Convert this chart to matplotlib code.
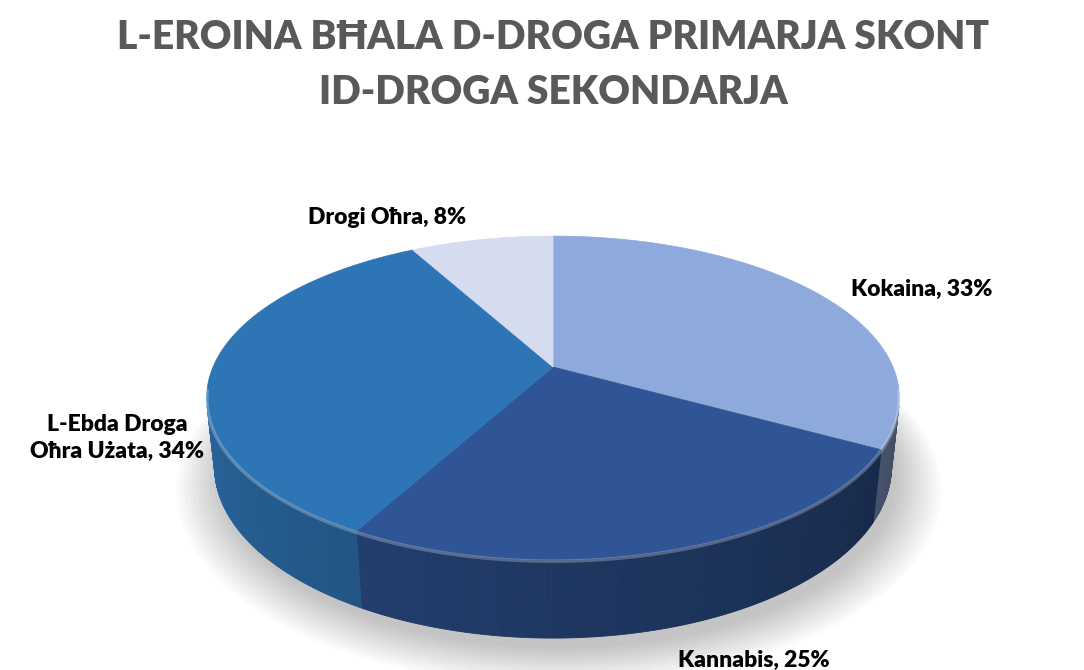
import numpy as np
import matplotlib.pyplot as plt
from matplotlib.patches import Polygon
from matplotlib.colors import to_rgb

# data
labels = ['Kokaina', 'Kannabis', 'L-Ebda Droga\nOħra Użata', 'Drogi Oħra']
shares = [33, 25, 34, 8]
colors = ['#8EA9DB', '#2F5597', '#2E75B6', '#D6DCF0']
title = 'L-EROINA BĦALA D-DROGA PRIMARJA SKONT\nID-DROGA SEKONDARJA'

# fake 3d camera (pixel space)
elev = np.radians(27.3)
dist = 4.65
thick = 0.23
scale = 1581
cx, cy = 553, 367
ce, se = np.cos(elev), np.sin(elev)


def project(t, z):
    x, y = np.cos(t), np.sin(t)
    den = dist + y * ce - z * se
    return cx + scale * x / den, cy - scale * (y * se + z * ce) / den


def shade(col, f):
    r, g, b = to_rgb(col)
    return (r * f, g * f, b * f)


fam = ['Lato', 'DejaVu Sans']
fig = plt.figure(figsize=(10.84, 6.70), dpi=100)
ax = fig.add_axes([0, 0, 1, 1])
ax.set_xlim(0, 1084)
ax.set_ylim(670, 0)
ax.axis('off')

# slice angles, clockwise from 12 o'clock
fr = np.array(shares) / sum(shares)
ends = np.pi / 2 - 2 * np.pi * np.cumsum(fr)
starts = np.concatenate([[np.pi / 2], ends[:-1]])

# soft shadow under the pie
tt = np.linspace(0, 2 * np.pi, 200)
for k in range(12):
    grow = 1.0 + 0.012 * k
    px, py = project(tt, -thick - 0.02)
    px = cx + (px - cx) * grow + 6
    py = cy + (py - cy) * grow + 4
    ax.add_patch(Polygon(np.c_[px, py], closed=True, color='#000000', alpha=0.018, lw=0))

# side walls (only the front facing part)
limit = -1 / (dist * ce)
t_lo, t_hi = np.radians(-166), np.radians(-14)
for a0, a1, col in zip(starts, ends, colors):
    ts = np.linspace(a0, a1, 200)
    for t1, t2 in zip(ts[:-1], ts[1:]):
        tm = (t1 + t2) / 2
        if np.sin(tm) >= limit:
            continue
        f = 0.85 - 0.40 * (tm - t_lo) / (t_hi - t_lo)
        x1, y1 = project(t1, 0)
        x2, y2 = project(t2, 0)
        x3, y3 = project(t2, -thick)
        x4, y4 = project(t1, -thick)
        ax.add_patch(Polygon([[x1, y1], [x2, y2], [x3, y3], [x4, y4]], closed=True,
                             facecolor=shade(col, f), edgecolor=shade(col, f), lw=0.6))

# top faces
for a0, a1, col in zip(starts, ends, colors):
    ts = np.linspace(a0, a1, 150)
    px, py = project(ts, 0)
    pts = np.vstack([[cx, cy], np.c_[px, py]])
    ax.add_patch(Polygon(pts, closed=True, facecolor=col, edgecolor=col, lw=0.5))

# light bevel along the front rim
ts = np.linspace(np.radians(-172), np.radians(-8), 300)
px, py = project(ts, -0.004)
ax.plot(px, py, color='white', alpha=0.25, lw=2.5, solid_capstyle='round')

# labels
lab_pos = [(922, 289), (754, 660), (117, 438), (387, 217)]
for lab, sh, (lx, ly) in zip(labels, shares, lab_pos):
    ax.text(lx, ly, f'{lab}, {sh}%', ha='center', va='center', fontsize=16.5,
            fontweight='heavy', color='black', family=fam, linespacing=1.3)

ax.text(553, 65, title, ha='center', va='center', fontsize=28, fontweight='heavy',
        color='#595959', family=fam, linespacing=1.6)

fig.savefig('out.png', dpi=100)
